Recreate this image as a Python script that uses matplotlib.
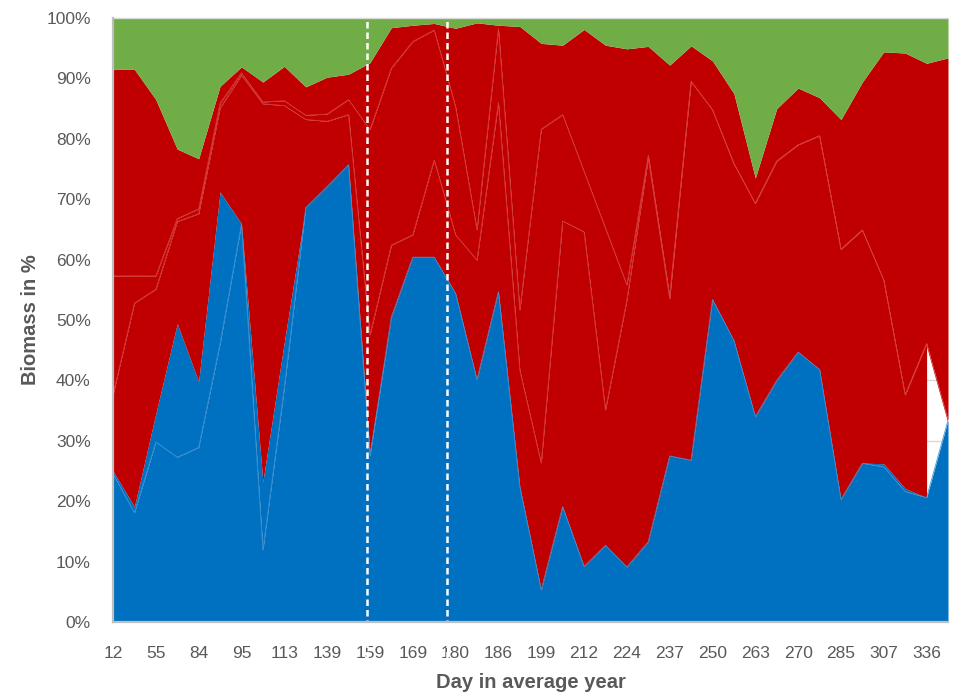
import numpy as np
import matplotlib
matplotlib.use("Agg")
import matplotlib.pyplot as plt

# ---------------- data (percent shares per sampling date) ----------------
day_labels = [12, 55, 84, 95, 113, 139, 159, 169, 180, 186,
              199, 212, 224, 237, 250, 263, 270, 285, 307, 336]

blue_a = [24.5, 18.1, 29.8, 27.3, 28.9, 46.1, 66.0, 11.9, 38.8, 68.6,
          72.1, 75.7, 27.5, 50.5, 60.4, 60.4, 54.4, 40.1, 54.7, 22.4,
          5.3, 19.1, 9.2, 12.7, 9.1, 13.3, 27.5, 26.8, 53.4, 46.6,
          34.0, 40.0, 44.7, 41.8, 20.3, 26.3, 25.7, 21.6, 20.6, 33.4]
blue_b = [0.5, 1.0, 4.7, 22.1, 10.9, 25.1, 0.0, 11.3, 7.5, 0.0,
          0.0, 0.0, 0.7, 0.0, 0.0, 0.0, 0.0, 0.0, 0.0, 0.0,
          0.0, 0.0, 0.0, 0.0, 0.0, 0.0, 0.0, 0.0, 0.0, 0.0,
          0.0, 0.0, 0.0, 0.0, 0.0, 0.0, 0.5, 0.5, 0.0, 0.0]
gap = [0.0, 0.0, 0.0, 0.0, 0.0, 0.0, 0.0, 0.0, 0.0, 0.0,
       0.0, 0.0, 0.0, 0.0, 0.0, 0.0, 0.0, 0.0, 0.0, 0.0,
       0.0, 0.0, 0.0, 0.0, 0.0, 0.0, 0.0, 0.0, 0.0, 0.0,
       0.0, 0.0, 0.0, 0.0, 0.0, 0.0, 0.0, 0.0, 25.5, 0.0]
red_a = [12.6, 33.7, 20.6, 16.9, 27.8, 13.9, 24.6, 62.6, 39.2, 14.6,
         10.8, 8.3, 19.3, 11.9, 3.7, 16.1, 9.7, 19.8, 31.3, 19.3,
         21.0, 47.3, 55.4, 22.4, 44.2, 63.5, 26.0, 62.7, 31.4, 29.3,
         35.3, 36.3, 34.3, 38.7, 41.4, 38.6, 30.4, 15.5, 0.0, 0.0]
red_b = [19.7, 4.5, 2.2, 0.5, 0.8, 0.8, 0.4, 0.3, 0.8, 0.7,
         1.2, 2.5, 34.0, 29.3, 32.0, 21.5, 21.2, 5.0, 12.3, 9.9,
         55.3, 17.6, 10.0, 30.1, 2.5, 0.5, 0.4, 0.0, 0.0, 0.0,
         0.0, 0.0, 0.0, 0.0, 0.0, 0.0, 0.0, 0.0, 0.0, 0.0]
red_c = [34.2, 34.2, 29.2, 11.5, 8.3, 2.8, 1.0, 3.3, 5.7, 4.7,
         6.1, 4.2, 11.1, 6.7, 2.7, 1.1, 13.0, 34.3, 0.5, 47.0,
         14.2, 11.5, 23.5, 30.3, 39.1, 18.0, 38.3, 5.9, 8.1, 11.6,
         4.2, 8.7, 9.4, 6.3, 21.5, 24.5, 37.8, 56.6, 46.4, 60.0]
green = [8.5, 8.5, 13.5, 21.7, 23.3, 11.3, 8.1, 10.6, 8.0, 11.4,
         9.8, 9.3, 7.4, 1.6, 1.2, 0.9, 1.7, 0.8, 1.2, 1.4,
         4.2, 4.5, 1.9, 4.5, 5.1, 4.7, 7.8, 4.6, 7.1, 12.5,
         26.5, 15.0, 11.6, 13.2, 16.8, 10.6, 5.6, 5.8, 7.5, 6.6]

# ---------------- style ----------------
BLUE = "#0070C0"
RED = "#C00000"
GREEN = "#70AD47"
BLUE_SEAM = "#3F8FD2"
RED_SEAM = "#D73C3C"
TXT = "#595959"

plt.rcParams["font.family"] = ["Liberation Sans", "DejaVu Sans"]

W, H = 964, 699
fig = plt.figure(figsize=(W / 100, H / 100), dpi=100)
ax = fig.add_axes([113 / W, 1 - 622 / H, 835 / W, 604 / H])

series = np.array([blue_a, blue_b, gap, red_a, red_b, red_c, green], dtype=float)
series = series / series.sum(axis=0) * 100.0
n = series.shape[1]
x = np.arange(n)
cum = np.vstack([np.zeros(n), np.cumsum(series, axis=0)])

top_blue_a = cum[1]
top_blue = cum[2]
top_gap = cum[3]
top_ra = cum[4]
top_rb = cum[5]
top_rc = cum[6]

# fills
ax.fill_between(x, 0, top_blue_a, color=BLUE, lw=0, zorder=2)
ax.fill_between(x, top_blue_a, top_blue, color=BLUE, lw=0, zorder=2)
gap_arr = np.array(gap)
first_gap = int(np.flatnonzero(gap_arr)[0]) if np.any(gap_arr > 0) else n
left = x <= first_gap
right = x >= first_gap
ax.fill_between(x, top_blue, top_ra, where=left, color=RED, lw=0, zorder=2)
if np.any(gap_arr > 0):
    ax.fill_between(x, top_gap, top_ra, where=right, color=RED, lw=0, zorder=2)
ax.fill_between(x, top_ra, top_rb, color=RED, lw=0, zorder=2)
ax.fill_between(x, top_rb, top_rc, color=RED, lw=0, zorder=2)
ax.fill_between(x, top_rc, 100, color=GREEN, lw=0, zorder=2)

# seams between adjacent series of the same colour
ax.plot(x, top_blue_a, color=BLUE_SEAM, lw=0.55, zorder=3)
ax.plot(x, top_ra, color=RED_SEAM, lw=0.55, zorder=3)
ax.plot(x, top_rb, color=RED_SEAM, lw=0.55, zorder=3)

# dashed white markers
for xp in [11.85, 15.6]:
    ax.plot([xp, xp], [-0.06, 1.0], transform=ax.get_xaxis_transform(),
            color="white", lw=1.8, ls=(0, (2.6, 1.6)), zorder=5, clip_on=False)

ax.set_xlim(0, n - 1)
ax.set_ylim(0, 100)
ax.set_yticks(np.arange(0, 101, 10))
ax.set_yticklabels([f"{v}%" for v in range(0, 101, 10)])
ax.set_xticks(np.arange(0, n, 2))
ax.set_xticklabels([str(d) for d in day_labels])
ax.tick_params(axis="both", length=0, labelsize=12.5, colors=TXT)
ax.tick_params(axis="y", pad=16)
ax.tick_params(axis="x", pad=17)
ax.set_axisbelow(True)
ax.grid(axis="y", color="#D9D9D9", lw=1.0, zorder=0)
ax.grid(axis="x", visible=False)

for s in ["left", "bottom"]:
    ax.spines[s].set_color("#BFBFBF")
    ax.spines[s].set_linewidth(1.6)
    ax.spines[s].set_zorder(6)
ax.spines["top"].set_color("#D9D9D9")
ax.spines["top"].set_linewidth(1.0)
ax.spines["right"].set_visible(False)

fig.text(530.5 / W, 1 - 683 / H, "Day in average year", ha="center", va="center",
         fontsize=14.5, color=TXT, fontweight="bold")
fig.text(30 / W, 1 - 320 / H, "Biomass in %", ha="center", va="center",
         rotation=90, fontsize=14.5, color=TXT, fontweight="bold")

fig.savefig("out.png", dpi=100)
